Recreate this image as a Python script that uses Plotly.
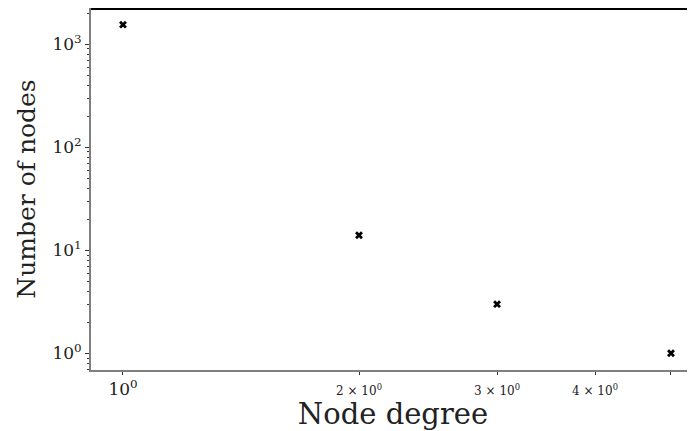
import plotly.graph_objects as go

degree = [1, 2, 3, 5]
count = [1550, 14, 3, 1]

x_tickvals = [1, 2, 3, 4, 5]
x_ticktext = ["10<sup>0</sup>",
              "<span style='font-size:12px'>2 × 10<sup>0</sup></span>",
              "<span style='font-size:12px'>3 × 10<sup>0</sup></span>",
              "<span style='font-size:12px'>4 × 10<sup>0</sup></span>",
              ""]
y_tickvals = [1, 10, 100, 1000]
y_ticktext = ["10<sup>0</sup>", "10<sup>1</sup>", "10<sup>2</sup>", "10<sup>3</sup>"]
y_minor = [m * 10 ** k for k in range(-1, 4) for m in range(2, 10)]

GREY = "#7f7f7f"
FONT = "DejaVu Serif"
TXT = "#222222"

fig = go.Figure(go.Scatter(
    x=degree, y=count, mode="markers",
    marker=dict(symbol="x", size=7, color="black", line=dict(width=0)),
))

# page body has an 8px default margin, so the figure is shifted by 8px
fig.update_layout(
    width=687, height=423,
    margin=dict(l=83, r=0, t=0, b=61, autoexpand=False),
    plot_bgcolor="white", paper_bgcolor="white",
    showlegend=False,
    font=dict(family=FONT, color=TXT),
    shapes=[dict(type="line", xref="paper", yref="paper", x0=0, x1=1, y0=0.997, y1=0.997,
                 line=dict(color="black", width=2))],
)
fig.update_xaxes(
    type="log", range=[-0.0408, 0.7296],
    tickmode="array", tickvals=x_tickvals, ticktext=x_ticktext,
    ticks="outside", ticklen=3, tickwidth=1, tickcolor="#333333",
    tickfont=dict(size=17, family=FONT, color=TXT),
    showline=True, linecolor=GREY, linewidth=2,
    showgrid=False, zeroline=False,
    title=dict(text="Node degree", font=dict(size=29, family=FONT, color=TXT), standoff=4),
)
fig.update_yaxes(
    type="log", range=[-0.162, 3.352],
    tickmode="array", tickvals=y_tickvals, ticktext=y_ticktext,
    ticks="outside", ticklen=4, tickwidth=1, tickcolor="#333333",
    tickfont=dict(size=17, family=FONT, color=TXT),
    minor=dict(tickmode="array", tickvals=y_minor, ticks="outside", ticklen=2,
               tickwidth=1, tickcolor="#333333", showgrid=False),
    showline=True, linecolor=GREY, linewidth=2,
    showgrid=False, zeroline=False,
    title=dict(text="Number of nodes", font=dict(size=25, family=FONT, color=TXT), standoff=10),
)

fig.write_html("out.html")
